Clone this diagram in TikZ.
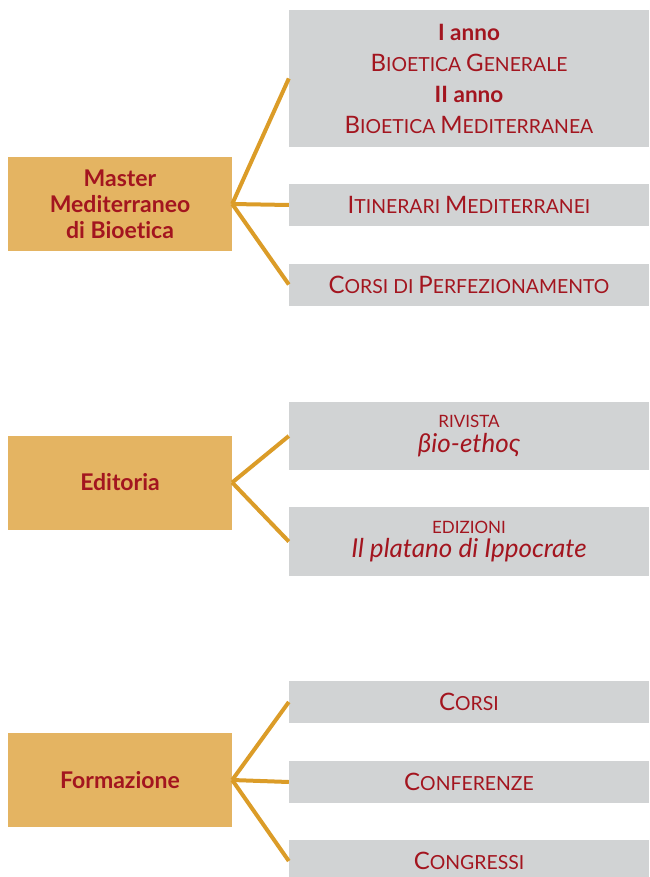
\documentclass[tikz,border=0pt]{standalone}
\usepackage{fontspec}
\setmainfont{Lato}[Ligatures=NoCommon]

\definecolor{boxorange}{HTML}{E4B462}
\definecolor{boxgray}{HTML}{D1D3D4}
\definecolor{linegold}{HTML}{DB9C28}
\definecolor{textred}{HTML}{A3151F}

% maiuscoletto finto: iniziale grande, resto piccolo
\newcommand{\capsmall}[2]{{\fontsize{24}{28}\selectfont #1}{\fontsize{19.4}{28}\selectfont #2}}

\begin{document}
\begin{tikzpicture}[x=1pt, y=-1pt,
    mainbox/.style={fill=boxorange, text=textred, align=center, inner sep=0pt,
      minimum width=224pt, minimum height=94pt, font=\fontsize{23}{26}\selectfont\bfseries},
    subbox/.style={fill=boxgray, text=textred, align=center, inner sep=0pt,
      minimum width=360pt, minimum height=42pt, font=\fontsize{19.4}{28}\selectfont},
    branch/.style={linegold, line width=4pt}]
  \useasboundingbox (0,0) rectangle (649,877);

  % 1. Master
  \node[mainbox] (master) at (120,204) {Master\\Mediterraneo\\di Bioetica};
  \node[subbox, minimum height=137pt, font=\fontsize{19.4}{31}\selectfont] (anni) at (469,78.5)
    {{\fontsize{22.5}{31}\selectfont\bfseries I anno}\\
     \capsmall{B}{IOETICA} \capsmall{G}{ENERALE}\\
     {\fontsize{22.5}{31}\selectfont\bfseries II anno}\\
     \capsmall{B}{IOETICA} \capsmall{M}{EDITERRANEA}};
  \node[subbox] (itinerari) at (469,205) {\capsmall{I}{TINERARI} \capsmall{M}{EDITERRANEI}};
  \node[subbox] (perfez) at (469,284.5) {\capsmall{C}{ORSI DI} \capsmall{P}{ERFEZIONAMENTO}};

  \draw[branch] (master.east) -- (anni.west);
  \draw[branch] (master.east) -- (itinerari.west);
  \draw[branch] (master.east) -- (perfez.west);

  % 2. Editoria
  \node[mainbox] (editoria) at (120,482.5) {Editoria};
  \node[subbox, minimum height=68pt, font=\fontsize{17}{25}\selectfont] (rivista) at (469,436)
    {RIVISTA\\{\fontsize{26}{25}\selectfont\itshape βio-ethoς}};
  \node[subbox, minimum height=69pt, font=\fontsize{17}{24}\selectfont] (edizioni) at (469,541.5)
    {EDIZIONI\\{\fontsize{26}{24}\selectfont\itshape Il platano di Ippocrate}};

  \draw[branch] (editoria.east) -- (rivista.west);
  \draw[branch] (editoria.east) -- (edizioni.west);

  % 3. Formazione
  \node[mainbox] (formazione) at (120,780) {Formazione};
  \node[subbox] (corsi) at (469,702) {\capsmall{C}{ORSI}};
  \node[subbox] (conferenze) at (469,782) {\capsmall{C}{ONFERENZE}};
  \node[subbox] (congressi) at (469,861) {\capsmall{C}{ONGRESSI}};

  \draw[branch] (formazione.east) -- (corsi.west);
  \draw[branch] (formazione.east) -- (conferenze.west);
  \draw[branch] (formazione.east) -- (congressi.west);
\end{tikzpicture}
\end{document}
